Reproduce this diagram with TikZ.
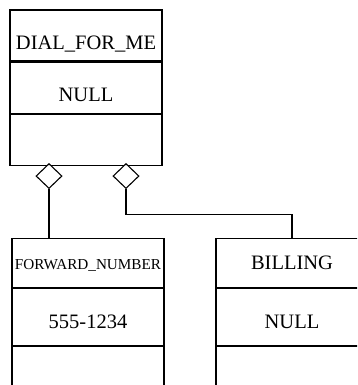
\documentclass[tikz,border=0pt]{standalone}
\usepackage{fontspec}
\setmainfont{Liberation Serif}
\usetikzlibrary{positioning,shapes.geometric}

\begin{document}
\begin{tikzpicture}[x=1pt,y=-1pt,
    cell/.style={draw,line width=1.1pt,minimum width=152pt,inner sep=0pt,
                 text height=13.5pt,text depth=0pt,
                 font=\fontsize{20.5}{22}\selectfont},
    low/.style={text height=#1},
    agg/.style={draw,diamond,line width=1.1pt,fill=white,
                minimum width=26pt,minimum height=25pt,inner sep=0pt}]
        \clip (0,0) rectangle (357,385);

        % owning object
        \node[cell,low=28pt,minimum height=51pt] (dial) at (86,35.5) {DIAL\_FOR\_ME};
        \node[cell,low=28pt,minimum height=51pt,below=0pt of dial] (dialval) {NULL};
        \node[cell,minimum height=51pt,below=0pt of dialval] (dialrest) {};

        % parts (cut off at the bottom / right)
        \node[cell,low=13.5pt,minimum height=49pt,font=\fontsize{15.2}{17}\selectfont] (fwd) at (88,262.8) {FORWARD\_NUMBER};
        \node[cell,low=22.5pt,minimum height=57pt,below=0pt of fwd] (fwdval) {555-1234};
        \node[cell,minimum height=60pt,below=0pt of fwdval] (fwdrest) {};

        \node[cell,minimum height=49pt] (bill) at (292,262.8) {BILLING};
        \node[cell,low=22.5pt,minimum height=57pt,below=0pt of bill] (billval) {NULL};
        \node[cell,minimum height=60pt,below=0pt of billval] (billrest) {};

        % aggregation diamonds
        \node[agg,anchor=north] (aggfwd) at (49,163) {};
        \node[agg,anchor=north] (aggbill) at (126,163) {};

        \draw[line width=1.1pt] (aggfwd.south) -- (aggfwd.south |- fwd.north);
        \draw[line width=1.1pt] (aggbill.south) -- ++(0,25) -| (bill.north);
\end{tikzpicture}
\end{document}
